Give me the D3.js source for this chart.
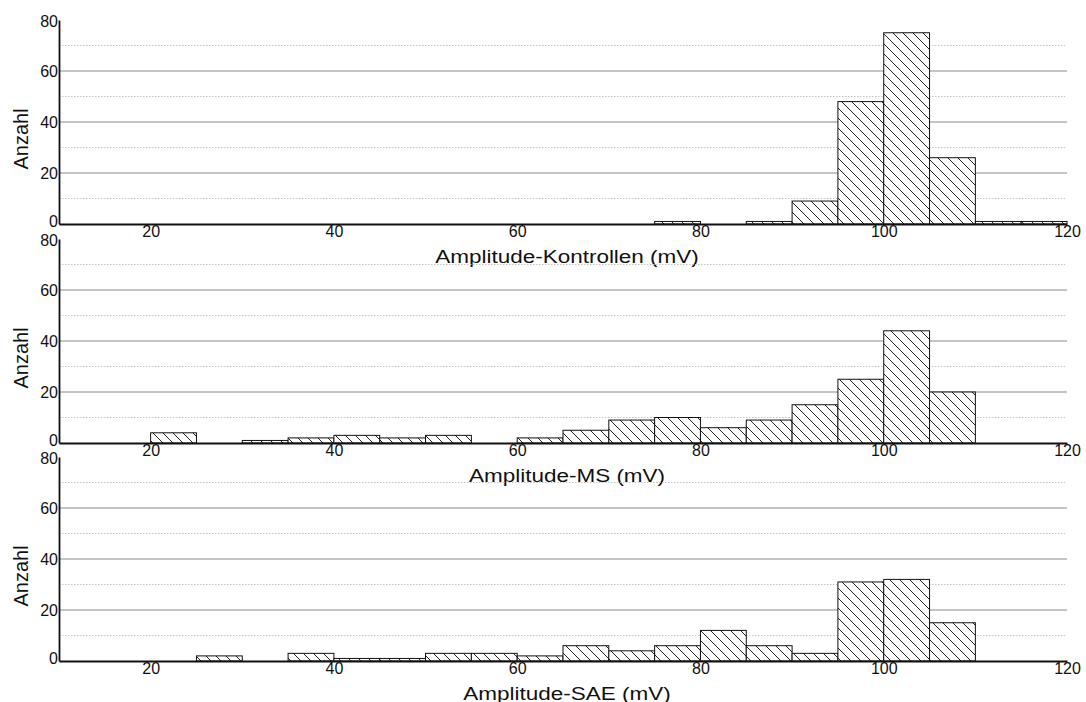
<!DOCTYPE html>
<html>
<head>
<meta charset="utf-8">
<script src="https://cdn.jsdelivr.net/npm/d3@7"></script>
<style>
  body { margin: 0; background: #fff; }
  text { font-family: "Liberation Sans", Arial, sans-serif; fill: #111; }
</style>
</head>
<body>
<div id="chart"></div>
<script>
// bin left edges (mV), bin width 5
const binStarts = [10, 15, 20, 25, 30, 35, 40, 45, 50, 55, 60, 65, 70, 75, 80, 85, 90, 95, 100, 105, 110, 115];
const kontrollen = [0, 0, 0, 0, 0, 0, 0, 0, 0, 0, 0, 0, 0, 1, 0, 1, 9, 48, 75, 26, 1, 1];
const ms = [0, 0, 4, 0, 1, 2, 3, 2, 3, 0, 2, 5, 9, 10, 6, 9, 15, 25, 44, 20, 0, 0];
const sae = [0, 0, 0, 2, 0, 3, 1, 1, 3, 3, 2, 6, 4, 6, 12, 6, 3, 31, 32, 15, 0, 0];
const xTicks = [20, 40, 60, 80, 100, 120];
const yTicks = [0, 20, 40, 60, 80];
const yMinor = [10, 30, 50, 70];
const titles = ["Amplitude-Kontrollen (mV)", "Amplitude-MS (mV)", "Amplitude-SAE (mV)"];
const binWidth = 5;

const W = 1086, H = 702;
const left = 59, right = 1067;
const panelTops = [20, 239, 457];
const panelH = 204;

const svg = d3.select("#chart").append("svg")
  .attr("width", W)
  .attr("height", H);

const defs = svg.append("defs");
const pat = defs.append("pattern")
  .attr("id", "hatch")
  .attr("patternUnits", "userSpaceOnUse")
  .attr("width", 10)
  .attr("height", 10);
pat.append("rect").attr("width", 10).attr("height", 10).attr("fill", "#fff");
pat.append("path")
  .attr("d", "M-1,-1L11,11M-6,4L6,16M4,-6L16,6")
  .attr("stroke", "#222")
  .attr("stroke-width", 1);

const x = d3.scaleLinear().domain([10, 120]).range([left, right]);

const series = [kontrollen, ms, sae];

series.forEach((counts, i) => {
  const top = panelTops[i];
  const y = d3.scaleLinear().domain([0, 80]).range([top + panelH, top]);
  const g = svg.append("g");

  // grid
  g.selectAll(".minor")
    .data(yMinor)
    .enter()
    .append("line")
    .attr("x1", left).attr("x2", right - 2)
    .attr("y1", d => y(d)).attr("y2", d => y(d))
    .attr("stroke", "#c4c4c4")
    .attr("stroke-width", 1)
    .attr("stroke-dasharray", "1.5,1.5");

  g.selectAll(".major")
    .data([20, 40, 60])
    .enter()
    .append("line")
    .attr("x1", left).attr("x2", right)
    .attr("y1", d => y(d)).attr("y2", d => y(d))
    .attr("stroke", "#8a8a8a")
    .attr("stroke-width", 1);

  // bars
  const bins = binStarts.map((b, j) => ({x0: b, n: counts[j]})).filter(d => d.n > 0);
  g.selectAll(".bar")
    .data(bins)
    .enter()
    .append("rect")
    .attr("x", d => x(d.x0))
    .attr("width", d => x(d.x0 + binWidth) - x(d.x0))
    .attr("y", d => y(d.n))
    .attr("height", d => y(0) - y(d.n))
    .attr("fill", "url(#hatch)")
    .attr("stroke", "#111")
    .attr("stroke-width", 1);

  // axes
  const xa = g.append("g")
    .attr("transform", `translate(0,${y(0)})`)
    .call(d3.axisBottom(x).tickValues(xTicks).tickSize(0).tickPadding(2));
  xa.select(".domain").attr("stroke", "#111").attr("stroke-width", 1.8);
  xa.selectAll("text").style("font-size", "16px").attr("fill", "#111");

  const ya = g.append("g")
    .attr("transform", `translate(${left},0)`)
    .call(d3.axisLeft(y).tickValues(yTicks).tickSize(0).tickPadding(1));
  ya.select(".domain").attr("stroke", "#111").attr("stroke-width", 1.8);
  ya.selectAll("text").style("font-size", "16px").attr("fill", "#111")
    .attr("dy", d => d === 0 ? "0.16em" : d === 80 ? "0.4em" : "0.32em");

  g.append("text")
    .attr("transform", `translate(567,${y(0) + 38.5})scale(1.25,1)`)
    .attr("text-anchor", "middle")
    .style("font-size", "18px")
    .text(titles[i]);

  g.append("text")
    .attr("transform", `translate(28,${top + panelH / 2 + 17})rotate(-90)`)
    .attr("text-anchor", "middle")
    .style("font-size", "20px")
    .text("Anzahl");
});
</script>
</body>
</html>
